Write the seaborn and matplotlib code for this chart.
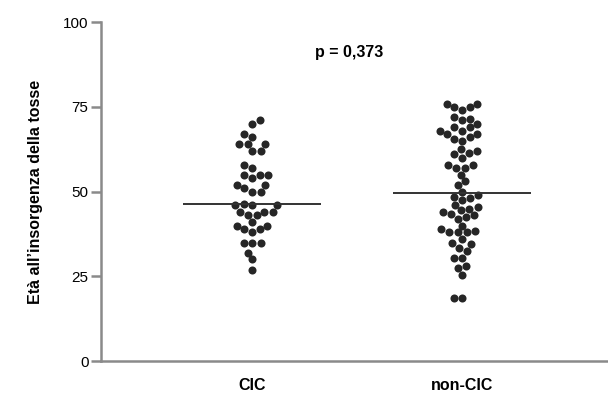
import numpy as np
import pandas as pd
import seaborn as sns
import matplotlib.pyplot as plt

# Values (age at cough onset)
categories = ["CIC", "non-CIC"]
cic = [71, 70, 67, 66, 64, 64, 64, 62, 62, 58, 57, 55, 55, 55, 54, 52, 52, 51, 50, 50,
       46.5, 46, 46, 46, 44, 44, 44, 43, 43, 41, 40, 40, 39, 39, 38, 35, 35, 35, 32, 30, 27]
non_cic = [76, 76, 75, 75, 74, 72, 71.5, 71, 70, 69, 69, 68, 68, 67, 67, 66, 65.5, 65,
           62.5, 62, 61.5, 61, 60, 58, 58, 57, 57, 55, 53, 52, 50, 49, 48.5, 48, 47.5,
           46, 45.5, 45, 44.5, 44, 43.5, 43, 42.5, 42, 40, 39, 38.5, 38, 38, 38, 36, 35,
           34.5, 33.5, 32.5, 30.5, 30.5, 28, 27.5, 25.5, 18.5, 18.5]
yticks = [0, 25, 50, 75, 100]
p_label = "p = 0,373"

data = pd.DataFrame({
    "gruppo": [categories[0]] * len(cic) + [categories[1]] * len(non_cic),
    "eta": cic + non_cic,
})

sns.set_style("ticks")
plt.rcParams["font.family"] = ["Liberation Sans", "DejaVu Sans"]
plt.rcParams["text.color"] = "black"
plt.rcParams["axes.labelcolor"] = "black"

fig = plt.figure(figsize=(6.08, 3.96), dpi=100)
ax = fig.add_axes([0.166, 0.088, 0.834, 0.856])

sns.swarmplot(data=data, x="gruppo", y="eta", order=categories, color="#262626",
              size=5.8, linewidth=0, ax=ax)

# median lines
for i, vals in enumerate([cic, non_cic]):
    ax.hlines(np.median(vals), i - 0.33, i + 0.33, color="#333333", lw=1.4, zorder=3)

ax.text(0.46, 91, p_label, ha="center", va="center", fontsize=11.5, fontweight="bold")

ax.set_xlim(-0.72, 1.695)
ax.set_ylim(0, 100)
ax.set_yticks(yticks)
ax.set_yticklabels([str(t) for t in yticks], fontsize=11, color="black")
ax.set_xticks([0, 1])
ax.set_xticklabels(categories, fontsize=11.5, fontweight="bold", color="black")
ax.tick_params(axis="x", length=0, pad=12)
ax.tick_params(axis="y", length=7, width=1.8, color="#8a8a8a", pad=2)
ax.set_xlabel("")
ax.set_ylabel("Età all’insorgenza della tosse", fontsize=11.5, fontweight="bold", labelpad=14)

for side in ["top", "right"]:
    ax.spines[side].set_visible(False)
for side in ["left", "bottom"]:
    ax.spines[side].set_color("#8a8a8a")
    ax.spines[side].set_linewidth(1.8)

fig.savefig("out.png", dpi=100)
